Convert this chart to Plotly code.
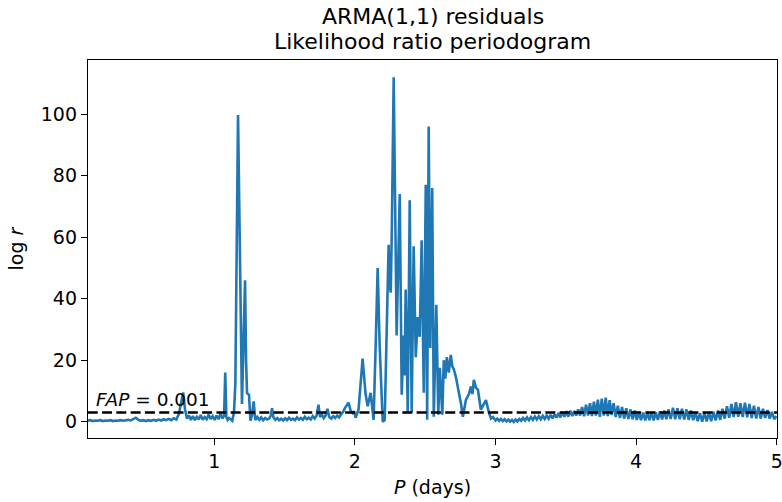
import plotly.graph_objects as go

# ---------------- data ----------------
period_low = [0.100,0.118,0.136,0.154,0.172,0.190,0.208,0.226,0.244,0.262,
              0.280,0.298,0.316,0.334,0.352,0.370,0.388,0.406,0.424,0.442,
              0.460,0.478,0.496,0.514,0.532,0.550,0.568,0.586,0.604,0.622,
              0.640,0.658,0.676,0.694,0.712,0.730,0.748]
logr_low = [0.3,0.5,0.2,0.4,0.3,0.5,0.2,0.4,0.3,0.5,
            0.2,0.4,0.3,0.5,0.3,0.4,0.6,0.4,0.9,1.3,
            0.6,0.3,0.5,0.2,0.5,0.3,0.6,0.3,0.7,0.4,
            0.8,0.5,0.9,0.5,1.1,0.7,2.5]

period_first = [0.762,0.779,0.792,0.806,0.820,0.834,0.848,0.862,0.876,0.890,
                0.904,0.918,0.932,0.946,0.960,0.974,0.988,1.002,1.016,1.030,
                1.044,1.058,1.070,1.078,1.086,1.095,1.105,1.118,1.128,1.140,
                1.150,1.169,1.183,1.197,1.210,1.219,1.226,1.233,1.240,1.247,
                1.257,1.268,1.280,1.292]
logr_first = [6.0,9.5,4.0,1.0,2.0,0.6,1.8,0.5,1.6,0.7,
              2.2,0.6,1.5,0.8,2.3,0.9,1.8,0.6,2.0,0.8,
              2.6,1.0,2.0,16.0,1.5,0.6,1.2,0.5,0.3,3.0,
              12.4,99.7,50.0,5.8,30.0,46.0,20.0,9.3,9.0,8.8,
              0.3,2.0,6.6,0.5]

period_mid = [1.306,1.320,1.334,1.348,1.362,1.376,1.390,1.402,1.411,1.420,
              1.434,1.448,1.462,1.476,1.490,1.504,1.518,1.532,1.546,1.560,
              1.574,1.588,1.602,1.616,1.630,1.644,1.658,1.672,1.686,1.700,
              1.714,1.728,1.741,1.752,1.764,1.778,1.792,1.805,1.818,1.832,
              1.846,1.860,1.874,1.888,1.902,1.916,1.930,1.944,1.955,1.970,
              1.984,1.995,2.005]
logr_mid = [1.5,0.6,1.4,0.5,1.2,0.7,1.0,2.0,4.4,1.5,
            0.6,1.2,0.5,1.0,0.4,1.1,0.5,1.3,0.6,1.0,
            0.5,1.4,0.7,1.2,0.6,1.6,0.8,1.3,0.7,1.8,
            1.0,2.0,5.5,1.5,2.5,1.2,2.0,4.2,1.5,1.0,
            1.8,1.2,2.0,1.4,2.4,3.2,4.5,5.5,6.2,3.5,
            2.8,3.4,1.3]

period_dense = [2.026,2.040,2.055,2.076,2.091,2.112,2.133,2.148,2.162,2.176,
                2.198,2.212,2.226,2.240,2.247,2.255,2.262,2.276,2.297,2.319,
                2.333,2.347,2.354,2.361,2.376,2.390,2.404,2.418,2.433,2.447,
                2.461,2.475,2.490,2.504,2.514,2.525,2.536,2.550,2.561,2.579,
                2.593,2.604,2.622,2.632,2.643,2.654,2.668,2.682,2.693,2.704,
                2.718,2.736,2.754,2.768,2.789,2.811,2.825,2.836,2.846,2.861,
                2.875,2.896,2.918,2.932,2.953,2.968,2.982]
logr_dense = [4.0,13.0,20.5,9.0,5.0,9.4,0.6,25.0,50.0,25.0,
              0.0,0.5,30.0,57.5,45.0,42.0,60.0,112.0,28.0,74.0,
              8.8,28.0,15.0,43.0,3.0,72.0,3.0,57.0,21.0,34.0,
              27.6,59.0,9.4,77.0,0.6,96.0,24.0,76.0,1.6,38.0,
              2.3,17.5,2.3,20.0,14.0,21.0,16.0,21.7,18.0,17.0,
              14.6,10.4,6.0,1.6,7.0,9.0,11.4,9.0,13.6,11.0,
              10.4,3.9,6.0,7.0,3.0,1.0,1.5]

period_tail = [3.000,3.013,3.026,3.039,3.052,3.065,3.078,3.091,3.104,3.117,
               3.130,3.143,3.156,3.169,3.182,3.196,3.210,3.224,3.238,3.252,
               3.266,3.280,3.294,3.308,3.322,3.336,3.350,3.364,3.378,3.392,
               3.406,3.420,3.434,3.448,3.462,3.476,3.490,3.504,3.518,3.532,
               3.546,3.560,3.574,3.588,3.602,3.616,3.630,3.644,3.658,3.672,
               3.686,3.700,3.714,3.728,3.742,3.756,3.770,3.784,3.798,3.812,
               3.826,3.840,3.855,3.870,3.885,3.900,3.915,3.930,3.945,3.960,
               3.975,3.990,4.005,4.020,4.035,4.050,4.065,4.080,4.095,4.110,
               4.125,4.140,4.155,4.170,4.185,4.200,4.215,4.230,4.246,4.262,
               4.278,4.294,4.310,4.326,4.342,4.358,4.374,4.390,4.406,4.422,
               4.438,4.454,4.470,4.486,4.502,4.518,4.534,4.550,4.566,4.582,
               4.598,4.614,4.630,4.646,4.662,4.678,4.694,4.710,4.726,4.742,
               4.758,4.774,4.790,4.806,4.822,4.838,4.854,4.870,4.886,4.902,
               4.918,4.934,4.950,4.966,4.982,5.000]
logr_tail = [0.4,1.0,0.3,0.9,0.2,0.8,0.1,0.7,0.0,0.6,
             -0.1,0.7,0.1,0.9,0.3,1.2,0.4,1.4,0.5,1.5,
             0.6,1.7,0.7,1.8,0.8,1.9,0.9,2.0,1.0,2.2,
             1.1,2.4,1.3,2.8,1.4,3.2,1.6,3.4,1.7,3.6,
             1.8,3.5,2.0,4.0,2.0,4.8,1.8,5.5,2.0,6.0,
             1.8,6.5,2.0,7.2,1.6,7.5,2.0,7.8,1.8,7.0,
             2.2,6.0,1.5,5.2,1.2,4.8,1.0,4.4,0.9,4.0,
             0.8,3.6,0.6,3.2,0.5,3.0,0.4,3.0,0.5,3.2,
             0.4,3.0,0.6,3.4,0.7,3.6,0.8,4.0,0.9,4.5,
             0.8,4.4,0.8,4.2,0.7,4.0,0.6,3.6,0.5,3.0,
             0.2,2.8,0.0,2.9,0.1,3.0,0.2,3.2,0.4,3.6,
             0.6,4.2,1.0,5.0,1.3,5.8,1.5,6.3,1.6,6.0,
             1.5,6.2,1.4,5.8,1.2,5.2,1.0,4.8,1.0,4.2,
             1.2,3.8,1.0,3.2,0.8,1.8]

fap_level = 3.0
fap_label = "<i>FAP</i> = 0.001"
title_lines = ["ARMA(1,1) residuals", "Likelihood ratio periodogram"]
x_ticks = [1, 2, 3, 4, 5]
y_ticks = [0, 20, 40, 60, 80, 100]

segments = [(period_low, logr_low), (period_first, logr_first), (period_mid, logr_mid),
            (period_dense, logr_dense), (period_tail, logr_tail)]
period, logr = [], []
for p, v in segments:
    assert len(p) == len(v), (len(p), len(v))
    period += p
    logr += v

FONT = "DejaVu Sans"
fig = go.Figure()
fig.add_trace(go.Scatter(x=period, y=logr, mode="lines",
                         line=dict(color="#1f77b4", width=2.6), showlegend=False))
fig.add_trace(go.Scatter(x=[0.1, 5.01], y=[fap_level, fap_level], mode="lines",
                         line=dict(color="black", width=2.5, dash="10px,4.3px"),
                         showlegend=False))
fig.add_annotation(x=0.148, y=fap_level, xref="x", yref="y", text=fap_label,
                   showarrow=False, xanchor="left", yanchor="bottom", yshift=0,
                   font=dict(family=FONT, size=18.5, color="black"))

# two-line title as paper annotations (plot top = 60 px, plot height = 378 px)
for line, ypix in zip(title_lines, [16, 42]):
    fig.add_annotation(x=0.5, y=1 + (60 - ypix) / 378, xref="paper", yref="paper",
                       text=line, showarrow=False, xanchor="center", yanchor="middle",
                       font=dict(family=FONT, size=22, color="black"))

axis_common = dict(showline=True, mirror=True, linecolor="black", linewidth=1.3,
                   ticks="outside", ticklen=6, tickwidth=1.2, tickcolor="black",
                   showgrid=False, zeroline=False, ticklabeloverflow="allow",
                   automargin=False,
                   tickfont=dict(family=FONT, size=19, color="black"))
fig.update_xaxes(range=[0.102, 5.002], tickvals=x_ticks,
                 title=dict(text="<i>P</i> (days)", standoff=9,
                            font=dict(family=FONT, size=19, color="black")),
                 **axis_common)
fig.update_yaxes(range=[-5.3, 117.6], tickvals=y_ticks,
                 title=dict(text="log <i>r</i>", standoff=12,
                            font=dict(family=FONT, size=19, color="black")),
                 **axis_common)
fig.update_layout(
    width=782, height=502,
    margin=dict(l=88, r=5, t=60, b=64, autoexpand=False),
    paper_bgcolor="white", plot_bgcolor="white",
)
fig.write_html("out.html")
